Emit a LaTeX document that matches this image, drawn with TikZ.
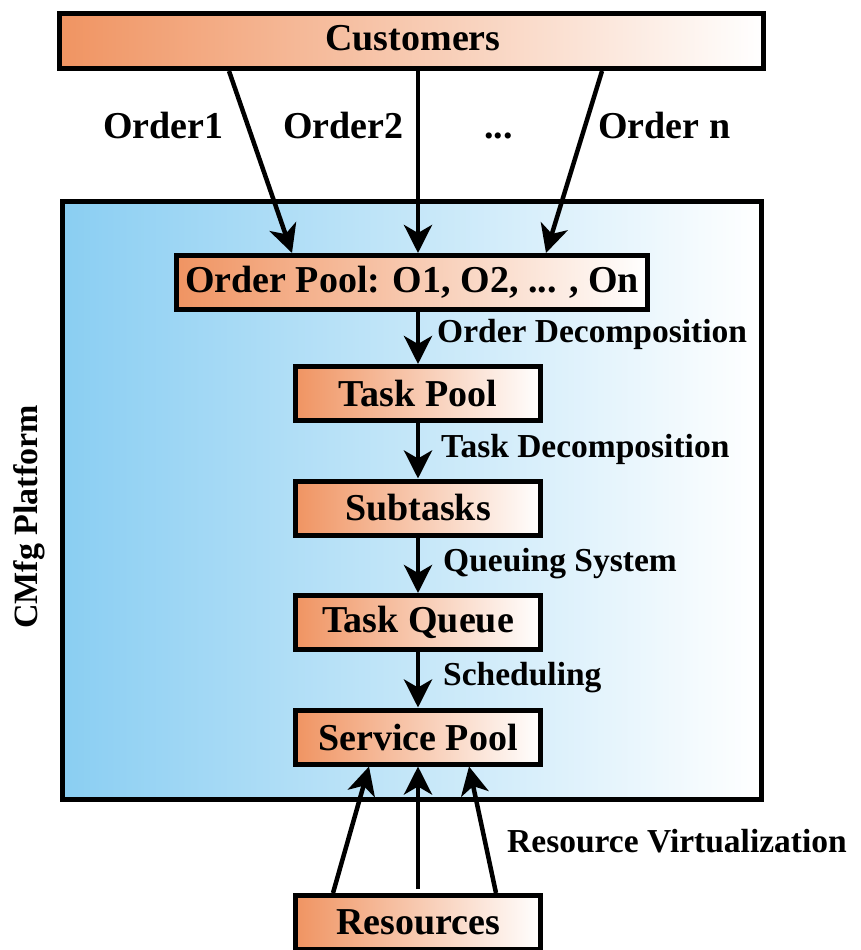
\documentclass[tikz,border=0pt]{standalone}
\usepackage{fontspec}
\setmainfont{Liberation Serif}
\usetikzlibrary{arrows.meta,calc}
\definecolor{orangeL}{RGB}{240,148,98}
\definecolor{blueL}{RGB}{138,206,242}
\begin{document}
\begin{tikzpicture}[x=1pt,y=-1pt,
 box/.style={draw=black,line width=5pt,left color=orangeL,right color=white,minimum height=54pt,inner sep=0pt,font=\fontsize{38}{40}\selectfont\bfseries},
 lbl/.style={font=\fontsize{33.5}{36}\selectfont\bfseries,inner sep=0pt,anchor=base west},
 olbl/.style={font=\fontsize{38}{40}\selectfont\bfseries,inner sep=0pt,anchor=base west},
 arr/.style={line width=4.5pt,-{Stealth[length=28pt,width=28pt,inset=8pt]}}]
\useasboundingbox (0,0) rectangle (860,950);
\fill[white] (0,0) rectangle (860,950);
% platform
\node[draw=black,line width=5pt,left color=blueL,right color=white,minimum width=699pt,minimum height=598pt,inner sep=0pt] (plat) at (412,500.5) {};
\node[font=\fontsize{34}{36}\selectfont\bfseries,rotate=90,inner sep=0pt] (platlbl) at (29,517) {CMfg Platform};
% boxes
\node[box,minimum width=704pt,minimum height=55pt] (cust) at (411.5,41) {};
\node[olbl,anchor=base] (custlbl) at (413,51) {Customers};
\node[box,minimum width=471pt] (op) at (412,282.5) {Order Pool: O1, O2, ... , On};
\node[box,minimum width=245pt] (tp) at (418,393.5) {Task Pool};
\node[box,minimum width=245pt] (st) at (418,508) {Subtasks};
\node[box,minimum width=245pt] (tq) at (418,622.5) {Task Queue};
\node[box,minimum width=245pt] (sp) at (418,737) {Service Pool};
\node[box,minimum width=245pt] (res) at (418,922.5) {Resources};
% order arrows
\draw[arr] ([xshift=-182.5pt]cust.south) -- ([xshift=-120pt]op.north);
\draw[arr] ([xshift=6.5pt]cust.south) -- ([xshift=6pt]op.north);
\draw[arr] ([xshift=190.5pt]cust.south) -- ([xshift=134pt]op.north);
\node[olbl] (o1) at (103,138) {Order1};
\node[olbl] (o2) at (283,138) {Order2};
\node[olbl] (odots) at (484,138) {...};
\node[olbl] (on) at (598,138) {Order n};
% flow arrows
\draw[arr] (tp.north |- op.south) -- (tp.north);
\draw[arr] (tp.south) -- (st.north);
\draw[arr] (st.south) -- (tq.north);
\draw[arr] (tq.south) -- (sp.north);
\node[lbl] (l1) at (437,342) {Order Decomposition};
\node[lbl] (l2) at (441,457) {Task Decomposition};
\node[lbl] (l3) at (443,571) {Queuing System};
\node[lbl] (l4) at (443,685) {Scheduling};
% resource arrows
\draw[arr] ([xshift=-85pt]res.north) -- ([xshift=-49pt]sp.south);
\draw[arr] ([yshift=4pt]res.north) -- (sp.south);
\draw[arr] ([xshift=78pt]res.north) -- ([xshift=51pt]sp.south);
\node[lbl] (l5) at (507,852) {Resource Virtualization};
\end{tikzpicture}
\end{document}
